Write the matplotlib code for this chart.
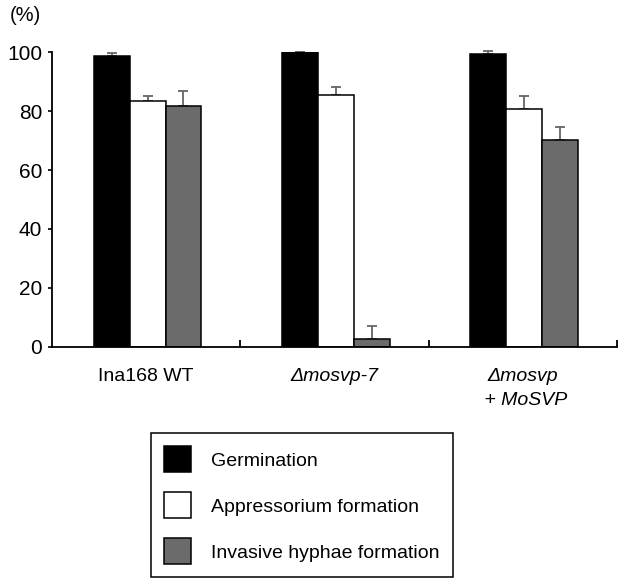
import matplotlib
matplotlib.use("Agg")
from matplotlib import pyplot as plt
from matplotlib.patches import Patch
import numpy as np

plt.rcParams['font.family'] = ['Liberation Sans', 'DejaVu Sans']

# values (percent)
strains = ['Ina168 WT', 'Δmosvp-7', 'Δmosvp\n + MoSVP']
strain_italic = [False, True, True]
series = ['Germination', 'Appressorium formation', 'Invasive hyphae formation']
germination = [98.6, 99.9, 99.5]
germination_err = [1.2, 0.1, 0.8]
appressorium = [83.4, 85.6, 80.7]
appressorium_err = [1.8, 2.6, 4.5]
invasive = [81.7, 2.7, 70.2]
invasive_err = [5.2, 4.5, 4.3]

colors = ['black', 'white', '#6b6b6b']
values = [germination, appressorium, invasive]
errors = [germination_err, appressorium_err, invasive_err]

fig = plt.figure(figsize=(6.23, 5.82), dpi=100)
ax = fig.add_axes([0.0835, 0.404, 0.9065, 0.5065])

x = np.arange(len(strains))
width = 0.19
for i in range(3):
    pos = x + (i - 1) * width + 0.008
    ax.bar(pos, values[i], width, color=colors[i],
           edgecolor='black', linewidth=1.1, zorder=2)
    ax.errorbar(pos, values[i], yerr=[np.zeros(3), errors[i]], fmt='none',
                ecolor='#666666', elinewidth=1.3, capsize=3.5, capthick=1.3,
                zorder=1, clip_on=False)

ax.set_xlim(-0.5, 2.5)
ax.set_ylim(0, 100)
ax.set_yticks([0, 20, 40, 60, 80, 100])
ax.tick_params(axis='y', direction='out', length=3, width=1.2, pad=4,
               labelsize=15)
ax.set_xticks([0.5, 1.5, 2.5], minor=True)
ax.set_xticks([0, 1, 2])
ax.set_xticklabels(['', '', ''])
ax.tick_params(axis='x', which='major', length=0)
ax.tick_params(axis='x', which='minor', direction='in', length=5, width=1.3)
for s in ['top', 'right']:
    ax.spines[s].set_visible(False)
for s in ['left', 'bottom']:
    ax.spines[s].set_linewidth(1.3)

# category labels below the axis
for xi, name, it in zip(x, strains, strain_italic):
    ax.text(xi, -0.07, name, transform=ax.get_xaxis_transform(),
            ha='center', va='top', fontsize=14,
            style='italic' if it else 'normal', linespacing=1.6)

fig.text(0.016, 0.974, '(%)', fontsize=14.5, ha='left', va='center')

handles = [Patch(facecolor=c, edgecolor='black', linewidth=1.1) for c in colors]
leg = fig.legend(handles, series, loc='upper left',
                 bbox_to_anchor=(0.242, 0.256), borderaxespad=0,
                 fontsize=14, handlelength=1.39, handleheight=1.69,
                 handletextpad=1.05, labelspacing=1.02, borderpad=0.68,
                 fancybox=False, framealpha=1, edgecolor='black')
leg.get_frame().set_linewidth(1.1)

fig.savefig('out.png', dpi=100)
